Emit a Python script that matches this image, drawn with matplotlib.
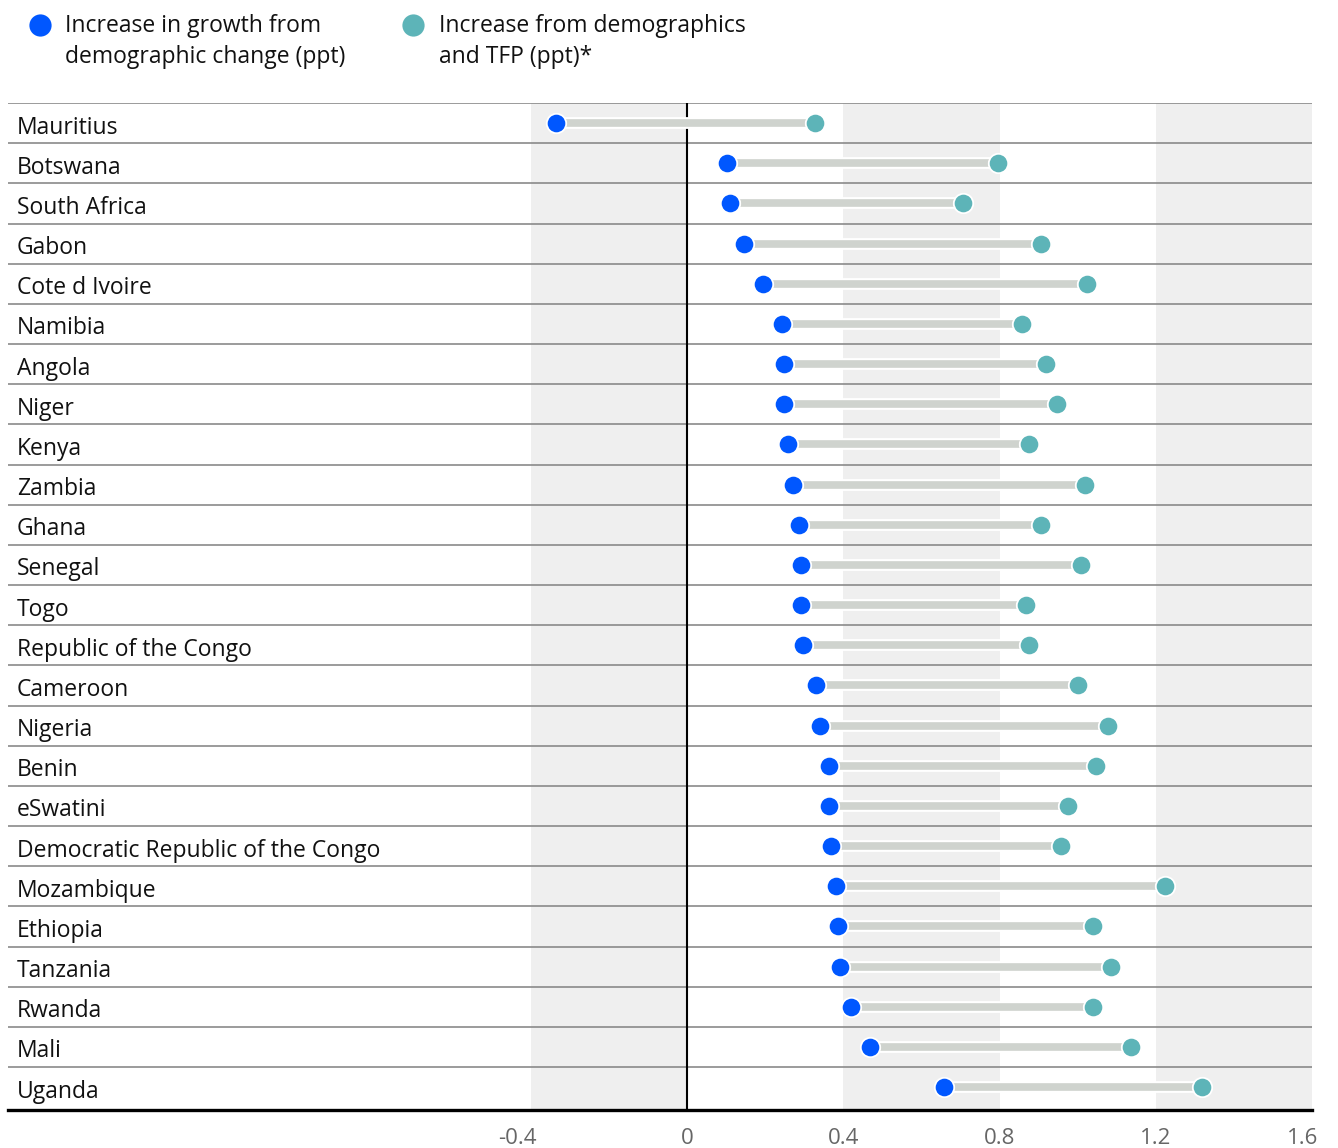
import numpy as np
import matplotlib
matplotlib.use('Agg')
import matplotlib.pyplot as plt
import matplotlib.patheffects as pe
from matplotlib.lines import Line2D
import matplotlib.transforms as mtransforms

plt.rcParams['font.family'] = ['Open Sans', 'DejaVu Sans']

# =========================================================
#                           data
# =========================================================
countries = ['Mauritius', 'Botswana', 'South Africa', 'Gabon', 'Cote d Ivoire',
             'Namibia', 'Angola', 'Niger', 'Kenya', 'Zambia', 'Ghana', 'Senegal',
             'Togo', 'Republic of the Congo', 'Cameroon', 'Nigeria', 'Benin',
             'eSwatini', 'Democratic Republic of the Congo', 'Mozambique',
             'Ethiopia', 'Tanzania', 'Rwanda', 'Mali', 'Uganda']
demo = [-0.336, 0.102, 0.110, 0.145, 0.194, 0.243, 0.248, 0.248, 0.258, 0.270,
        0.286, 0.291, 0.291, 0.296, 0.330, 0.340, 0.363, 0.363, 0.368, 0.381,
        0.386, 0.391, 0.419, 0.468, 0.657]
demo_tfp = [0.327, 0.796, 0.706, 0.906, 1.024, 0.857, 0.919, 0.947, 0.875, 1.019,
            0.906, 1.008, 0.868, 0.875, 1.001, 1.078, 1.047, 0.975, 0.957, 1.223,
            1.039, 1.085, 1.039, 1.136, 1.318]
xticks = [-0.4, 0, 0.4, 0.8, 1.2, 1.6]
xticklabels = ['-0.4', '0', '0.4', '0.8', '1.2', '1.6']

blue = '#0057FF'
teal = '#5DB4B8'
bar_c = '#CFD3CE'
band_c = '#EFEFEF'

# =========================================================
#                           figure
# =========================================================
W, H = 1338, 1148
fig = plt.figure(figsize=(W / 100, H / 100), dpi=100)
n = len(countries)
row_h = 40.17
ax_l, ax_r, ax_t = 8, 1312, 103
ax_b = ax_t + n * row_h
ax = fig.add_axes([ax_l / W, 1 - 1110 / H, (ax_r - ax_l) / W, (1110 - ax_t) / H])

px_per_unit = (1312 - 531) / 2.0
xmin = -0.4 - (531 - ax_l) / px_per_unit
ax.set_xlim(xmin, 1.6)
# extra space below last row so the bottom rule sits at 1110 px
extra = (1110 - ax_b) / row_h
ax.set_ylim(n - 0.5 + extra, -0.5)

# shaded bands
for a, b in [(-0.4, 0), (0.4, 0.8), (1.2, 1.6)]:
    ax.axvspan(a, b, color=band_c, lw=0, zorder=0)

# row separators
for k in range(n):
    ax.axhline(k - 0.5, color='#8a8a8a', lw=1.2, zorder=1)
ax.axhline(n - 0.5 + extra, color='black', lw=2.4, zorder=5, clip_on=False)

# zero line
ax.axvline(0, color='black', lw=1.5, zorder=2)

y = np.arange(n)
for i in range(n):
    ax.plot([demo[i], demo_tfp[i]], [y[i], y[i]], color=bar_c, lw=5.5,
            solid_capstyle='butt', zorder=3,
            path_effects=[pe.Stroke(linewidth=8.5, foreground='white'), pe.Normal()])
ax.plot(demo_tfp, y, 'o', color=teal, ms=14, mec='white', mew=1.3, zorder=4, ls='none')
ax.plot(demo, y, 'o', color=blue, ms=14, mec='white', mew=1.3, zorder=4, ls='none')

# country labels
trans = mtransforms.blended_transform_factory(ax.transAxes, ax.transData)
for i, c in enumerate(countries):
    ax.text(9 / (ax_r - ax_l), i + 0.26, c, transform=trans, ha='left',
            va='baseline', fontsize=16.5, color='#111111')

ax.set_xticks(xticks)
ax.set_xticklabels(xticklabels, fontsize=16, color='#666666')
ax.tick_params(axis='x', length=0, pad=13)
ax.set_yticks([])
for s in ax.spines.values():
    s.set_visible(False)
# end labels sit a little inward, as in the original
tl = ax.get_xticklabels()
tl[0].set_transform(tl[0].get_transform() + mtransforms.ScaledTranslation(-14 / 100, 0, fig.dpi_scale_trans))
tl[-1].set_transform(tl[-1].get_transform() + mtransforms.ScaledTranslation(-9 / 100, 0, fig.dpi_scale_trans))

# legend
def fx(px):
    return px / W

def fy(py):
    return 1 - py / H

fig.add_artist(Line2D([fx(40)], [fy(25)], marker='o', ms=16, color=blue, mec='white', mew=0))
fig.add_artist(Line2D([fx(413)], [fy(25)], marker='o', ms=16, color=teal, mec='white', mew=0))
fig.text(fx(65), fy(26), 'Increase in growth from', fontsize=16.5, va='center', color='#111111')
fig.text(fx(65), fy(57), 'demographic change (ppt)', fontsize=16.5, va='center', color='#111111')
fig.text(fx(439), fy(26), 'Increase from demographics', fontsize=16.5, va='center', color='#111111')
fig.text(fx(439), fy(57), 'and TFP (ppt)*', fontsize=16.5, va='center', color='#111111')

fig.savefig('out.png', dpi=100, facecolor='white')
